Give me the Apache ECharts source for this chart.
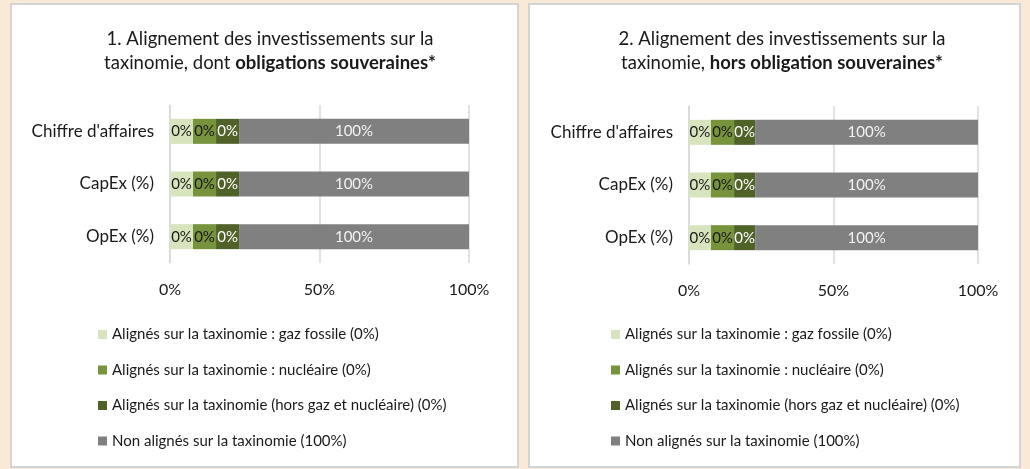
<!DOCTYPE html>
<html>
<head>
<meta charset="utf-8">
<script src="https://cdn.jsdelivr.net/npm/echarts@6/dist/echarts.min.js"></script>
<style>
  html, body { margin: 0; padding: 0; background: #fbe9d8; }
  #chart { width: 1030px; height: 469px; }
</style>
</head>
<body>
<div id="chart"></div>
<script>
// catégories (axe Y)
var categories = ["Chiffre d'affaires", 'CapEx (%)', 'OpEx (%)']
var seriesNames = [
  'Alignés sur la taxinomie : gaz fossile (0%)',
  'Alignés sur la taxinomie : nucléaire (0%)',
  'Alignés sur la taxinomie (hors gaz et nucléaire) (0%)',
  'Non alignés sur la taxinomie (100%)'
]
var segmentLabels = ['0%', '0%', '0%', '100%']
var xTicks = ['0%', '50%', '100%']

// longueurs dessinées (graphique 1, dont obligations souveraines)
var gaz1 = [7.7, 7.7, 7.7]
var nucleaire1 = [7.7, 7.7, 7.7]
var horsGaz1 = [7.7, 7.7, 7.7]
var nonAligne1 = [76.9, 76.9, 76.9]

// graphique 2, hors obligations souveraines
var gaz2 = [7.6, 7.6, 7.6]
var nucleaire2 = [8.0, 8.0, 8.0]
var horsGaz2 = [7.3, 7.3, 7.3]
var nonAligne2 = [77.1, 77.1, 77.1]

var colors = ['#d7e4bd', '#77933c', '#4f6228', '#808080']
var labelColors = ['#1a1a1a', '#1a1a1a', '#ffffff', '#f2f2f2']
var font = 'Lato, "Liberation Sans", sans-serif'

var chart = echarts.init(document.getElementById('chart'))

function makeSeries (idx, valuesList) {
  return valuesList.map(function (vals, i) {
    return {
      name: seriesNames[i],
      type: 'bar',
      stack: 'total' + idx,
      xAxisIndex: idx,
      yAxisIndex: idx,
      barWidth: 25,
      itemStyle: { color: colors[i] },
      label: {
        show: true,
        position: 'inside',
        formatter: segmentLabels[i],
        color: labelColors[i],
        fontFamily: font,
        fontSize: 15
      },
      emphasis: { disabled: true },
      data: vals
    }
  })
}

function xAxis (idx) {
  return {
    type: 'value',
    gridIndex: idx,
    min: 0,
    max: 100,
    interval: 50,
    axisLine: { show: false },
    axisTick: { show: false },
    axisLabel: {
      formatter: function (v) { return xTicks[v / 50] },
      fontFamily: font,
      fontSize: 16,
      color: '#1a1a1a',
      margin: 19
    },
    splitLine: { lineStyle: { color: '#d9d9d9', width: 1.5 } }
  }
}

function yAxis (idx) {
  return {
    type: 'category',
    gridIndex: idx,
    inverse: true,
    data: categories,
    axisLine: { lineStyle: { color: '#d9d9d9', width: 1.5 } },
    axisTick: { length: 5, lineStyle: { color: '#d9d9d9', width: 1.5 } },
    axisLabel: { fontFamily: font, fontSize: 17, color: '#1a1a1a', margin: 16 }
  }
}

function legend (left) {
  return {
    orient: 'vertical',
    left: left,
    top: 322,
    itemWidth: 9,
    itemHeight: 9,
    itemGap: 20.5,
    icon: 'rect',
    data: seriesNames,
    textStyle: { fontFamily: font, fontSize: 15, color: '#1a1a1a' },
    selectedMode: false
  }
}

var titleRich = { b: { fontWeight: 'bold', fontFamily: font, fontSize: 18.5, color: '#1a1a1a' } }

chart.setOption({
  animation: false,
  graphic: [
    { type: 'rect', shape: { x: 11, y: 4, width: 507, height: 463 }, style: { fill: '#fff', stroke: '#d4d4d4', lineWidth: 2 }, z: -10 },
    { type: 'rect', shape: { x: 529, y: 4, width: 491, height: 463 }, style: { fill: '#fff', stroke: '#d4d4d4', lineWidth: 2 }, z: -10 }
  ],
  title: [
    {
      text: '1. Alignement des investissements sur la\ntaxinomie, dont {b|obligations souveraines*}',
      left: 265,
      top: 22,
      textAlign: 'center',
      textStyle: { fontFamily: font, fontSize: 18.5, fontWeight: 'normal', color: '#1a1a1a', lineHeight: 24, rich: titleRich }
    },
    {
      text: '2. Alignement des investissements sur la\ntaxinomie, {b|hors obligation souveraines*}',
      left: 777,
      top: 22,
      textAlign: 'center',
      textStyle: { fontFamily: font, fontSize: 18.5, fontWeight: 'normal', color: '#1a1a1a', lineHeight: 24, rich: titleRich }
    }
  ],
  legend: [legend(93), legend(606)],
  grid: [
    { left: 170, top: 105, width: 299, height: 158 },
    { left: 689, top: 106, width: 289, height: 158 }
  ],
  xAxis: [xAxis(0), xAxis(1)],
  yAxis: [yAxis(0), yAxis(1)],
  series: makeSeries(0, [gaz1, nucleaire1, horsGaz1, nonAligne1])
    .concat(makeSeries(1, [gaz2, nucleaire2, horsGaz2, nonAligne2]))
})
</script>
</body>
</html>
